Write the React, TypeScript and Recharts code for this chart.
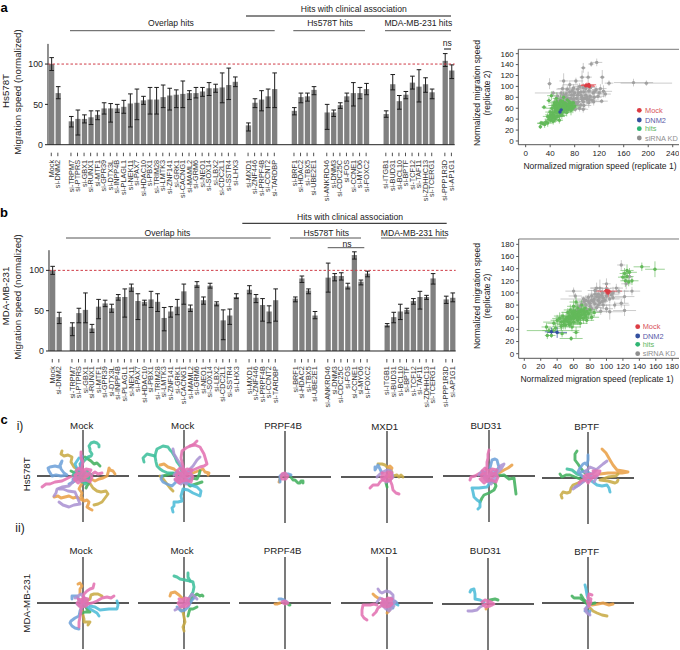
import React from 'react';
import { BarChart, Bar, XAxis, YAxis, ErrorBar, ReferenceLine, ScatterChart, Scatter, LineChart, Line } from 'recharts';

const FONT = '"Liberation Sans", Arial, sans-serif';

// ---------- bar panels ----------
const genes = ['Mock','si-DNM2','~1','si-TRPM7','si-PTPRS','si-GBX1','si-RUNX1','si-MTF1','si-GPR39','si-DTX3L','si-INPP4B','si-PLAGL1','si-NEK11','si-PAX7','si-HDAC10','si-PBX1','si-TRIM28','si-LMTK3','si-ZNF141','si-GRK1','si-CACNG1','si-MAML2','si-GRM6','si-NEO1','si-SOX14','si-LBX2','si-CDC2L1','si-SSTR4','si-LHX3','~2','si-MXD1','si-ZNF446','si-PRPF4B','si-CCNT2','si-TARDBP','~3','~4','si-BRF1','si-HDAC2','si-TBX5','si-UBE2E1','~5','si-ANKRD46','si-DNM3','si-CDC25C','si-FOS','si-CCNE1','si-MYO6','si-FOXC2','~6','~7','si-ITGB1','si-BUD31','si-BCL10','si-BPTF','si-TCF12','si-TAF11','si-ZDHHC13','si-TCERG1','~8','si-PPP1R3D','si-AP1G1'];
const N = null;
const hsMean = [100,64,N,29,32,32,34,37,45,45,45,47,51,52,55,56,56,59,61,62,63,64,64,66,70,70,71,74,78,N,24,52,56,60,69,N,N,42,59,60,68,N,40,40,49,60,64,64,69,N,N,38,75,54,62,77,72,75,65,N,104,92];
const hsLow = [92,57,N,22,12,27,25,31,38,28,40,39,22,31,50,38,38,46,43,46,46,56,58,60,61,65,52,56,72,N,17,46,42,46,46,N,N,37,52,54,62,N,19,35,45,54,48,57,62,N,N,34,68,44,57,69,53,65,57,N,97,82];
const hsHigh = [108,72,N,35,43,37,42,42,52,51,50,55,63,69,60,71,71,74,70,68,79,67,71,71,77,75,89,95,84,N,27,57,67,69,89,N,N,46,64,64,72,N,50,43,52,64,77,71,76,N,N,42,87,61,66,85,93,83,69,N,113,99];
const mdaMean = [100,42,N,30,47,51,28,55,59,53,67,67,79,62,61,64,61,41,49,55,74,53,82,63,81,59,38,44,67,N,76,66,57,49,63,N,N,65,90,75,44,N,91,93,93,80,119,86,96,N,N,32,42,49,51,62,67,67,90,N,64,66];
const mdaLow = [95,34,N,19,35,35,23,40,55,48,63,42,74,39,57,54,49,25,42,45,58,49,79,58,78,56,14,33,65,N,71,60,37,35,37,N,N,61,85,71,40,N,73,87,88,77,114,82,92,N,N,30,35,39,47,58,52,64,83,N,59,61];
const mdaHigh = [105,48,N,35,53,72,33,64,63,58,70,77,83,71,63,74,71,54,55,64,83,57,86,67,84,61,51,52,71,N,81,70,65,56,77,N,N,67,93,77,49,N,109,96,97,84,123,88,99,N,N,34,48,58,53,65,74,69,96,N,68,72];

const makeRows = (mean: (number|null)[], low: (number|null)[], high: (number|null)[]) =>
  genes.map((name, i) => ({
    name,
    value: mean[i],
    err: mean[i] === null ? undefined : [(mean[i] as number) - (low[i] as number), (high[i] as number) - (mean[i] as number)],
  }));

const GeneTick = (props: any) => {
  const { x, y, payload } = props;
  if (String(payload.value).startsWith('~')) return <g />;
  return (
    <g>
      <line x1={x} x2={x} y1={y} y2={y + 3.5} stroke="#222" strokeWidth={0.8} />
      <text x={x + 2.6} y={y + 7.2} transform={`rotate(-90 ${x + 2.6} ${y + 7.2})`} textAnchor="end" fontSize={7.3} fill="#333" fontFamily={FONT}>{payload.value}</text>
    </g>
  );
};

const GeneBars = ({ rows, left, top, plotLeft, plotTop, plotBottom, plotRight }: any) => {
  const w = plotRight - left;
  const h = 215;
  return (
    <div style={{ position: 'absolute', left, top }}>
      <BarChart width={w} height={h} data={rows} barSize={5.3} margin={{ top: plotTop - top, right: 0, bottom: 0, left: 0 }}>
        <XAxis dataKey="name" type="category" interval={0} tick={<GeneTick />} tickLine={false} height={h - (plotBottom - top)} stroke="#222" />
        <YAxis type="number" domain={[0, 125]} ticks={[0, 50, 100]} width={plotLeft - left} tickSize={3} tickMargin={2} interval={0}
          tick={{ fontSize: 8.8, fill: '#222', fontFamily: FONT }} stroke="#222" />
        <Bar dataKey="value" fill="#808080" isAnimationActive={false}>
          <ErrorBar dataKey="err" width={2.3} strokeWidth={1} stroke="#1c1c1c" isAnimationActive={false} />
        </Bar>
        <ReferenceLine y={100} stroke="#cf3a45" strokeWidth={1} strokeDasharray="2.5 2" />
      </BarChart>
    </div>
  );
};

// ---------- scatter panels: [replicate 1, replicate 2, error 1, error 2] ----------
type P = [number, number, number, number];
const hsGray: P[] = [[176,107,32,7],[197,106,42,5],[116,144,9,7],[107,141,5,5],[94,134,4,9],[39,105,4,10],[62,110,7,14],[82,110,12,6],[92,117,4,12],[102,117,6,10],[125,117,4,13],[136,106,7,5],[127,91,14,11],[122,96,10,8],[115,94,7,7],[124,73,10,4],[108,75,8,6],[100,80,24,12],[90,90,18,8],[72,103,12,6],[78,97,13,7],[85,95,14,10],[95,90,11,12],[103,92,12,9],[110,88,15,7],[98,84,10,10],[92,80,16,9],[85,84,14,7],[80,88,15,11],[72,90,11,10],[66,86,12,9],[62,84,10,12],[70,78,11,8],[78,76,15,9],[86,72,12,11],[94,72,11,7],[103,70,10,9],[111,72,12,7],[88,60,11,6],[94,58,8,6],[81,58,9,5],[65,73,13,7],[58,78,11,11],[52,82,12,7],[60,70,10,9],[72,68,11,10],[80,66,13,7],[95,65,12,7],[105,82,9,11],[118,82,11,7],[130,86,9,6],[45,88,30,4],[68,95,18,7],[58,88,13,5],[75,84,10,6],[83,78,10,9],[90,84,11,6],[100,76,12,10],[112,80,7,9],[120,88,8,7],[70,72,10,8],[76,92,11,6],[84,68,9,8],[92,76,10,7],[98,96,9,6],[106,98,8,7],[88,100,9,6],[74,78,8,7],[66,80,10,8],[80,72,8,9],[96,78,10,6],[104,76,7,6],[60,96,8,6],[54,74,9,7],[68,66,8,8],[86,88,12,6],[94,98,8,8],[112,90,10,5],[78,84,9,6],[90,66,9,7]];
const hsGreen: P[] = [[24,26,3,4],[25,33,6,4],[28,32,9,4],[31,30,5,6],[33,35,8,5],[36,33,9,7],[39,44,6,7],[41,38,8,6],[44,42,6,9],[45,36,6,6],[46,48,8,7],[48,40,9,7],[30,62,4,4],[40,53,8,9],[43,60,11,10],[38,74,4,6],[42,83,7,8],[47,70,8,7],[50,78,6,11],[48,55,11,7],[52,45,12,9],[52,60,8,10],[54,52,9,7],[55,68,11,9],[55,38,6,6],[57,74,9,11],[58,58,11,7],[59,47,8,7],[60,64,9,9],[62,80,8,9],[62,54,11,9],[64,70,12,7],[64,60,8,7],[66,62,14,11],[67,52,8,7],[68,75,9,9],[69,65,11,10],[70,58,9,7],[72,69,11,9],[72,62,12,6],[74,56,8,9],[75,65,9,7],[77,60,9,9],[78,70,8,9],[80,64,11,6],[46,65,9,6],[50,66,8,7],[51,72,9,6],[56,62,8,10],[60,72,9,7],[65,66,8,7],[70,64,8,6],[48,62,6,9],[53,64,11,7],[57,56,9,6],[61,68,8,9],[63,58,9,7],[67,68,9,9],[71,72,6,7],[44,52,8,7],[36,45,8,6],[41,48,9,7],[47,44,8,9],[50,52,11,7],[55,46,9,7],[52,56,9,8],[58,66,9,7],[62,62,10,8],[66,58,10,7],[54,60,8,6],[60,56,10,8],[74,62,8,7],[49,58,7,7],[44,46,7,7],[58,50,8,6],[64,64,9,8],[68,60,8,8],[56,70,9,7],[50,44,7,6],[42,44,8,5],[76,68,7,7],[38,40,7,6]];
const hsBlue: P[] = [[58,57,4,8],[56,53,3,7]];
const hsRed: P[] = [[100,102,12,5],[103,103,12,4],[98,101,9,5],[104,100,9,6]];
const mdaGray: P[] = [[118,146,5,8],[124,115,6,9],[122,71,14,9],[104,69,16,13],[131,103,10,7],[122,94,12,11],[60,103,10,6],[100,115,5,9],[88,108,8,9],[112,108,8,7],[128,127,3,10],[115,103,12,7],[108,100,9,10],[100,107,6,5],[95,100,10,9],[90,98,9,7],[92,108,11,14],[86,104,9,6],[82,95,8,10],[75,88,11,7],[78,93,9,6],[85,90,9,7],[90,88,8,6],[96,92,8,7],[100,95,9,9],[104,90,12,7],[110,80,18,6],[70,82,9,6],[75,80,11,9],[80,83,9,7],[86,82,11,10],[92,84,8,9],[96,80,8,7],[88,76,9,6],[82,74,8,7],[76,73,9,6],[72,90,28,4],[68,78,8,7],[93,70,11,6],[100,74,8,7],[108,92,14,4],[118,83,9,7],[62,95,8,5],[65,72,11,6],[98,88,6,6],[84,86,6,6],[80,78,6,5],[91,93,6,6],[73,86,6,6],[106,97,8,6],[95,86,7,6],[88,94,7,6],[82,88,7,5],[94,96,6,5],[102,100,6,6],[86,98,7,6],[78,86,6,6],[90,80,6,5]];
const mdaGreen: P[] = [[28,30,3,6],[30,38,8,4],[27,44,6,7],[33,30,5,4],[38,42,9,7],[36,50,8,6],[45,45,11,7],[40,55,8,9],[46,33,6,6],[57,25,14,4],[63,35,4,9],[43,58,9,10],[48,53,9,9],[47,62,11,7],[50,47,8,7],[52,60,11,11],[53,68,8,7],[54,52,9,7],[55,62,12,9],[56,72,8,9],[57,57,11,10],[58,44,11,7],[59,65,9,9],[60,78,8,11],[60,52,9,9],[62,60,12,10],[62,70,9,9],[63,85,8,9],[64,65,11,9],[65,55,11,7],[65,75,9,10],[66,60,12,9],[67,68,11,10],[68,50,9,7],[69,72,9,9],[70,64,11,7],[70,80,8,9],[72,58,11,9],[73,68,9,10],[74,75,8,9],[75,62,11,7],[76,55,9,6],[78,66,9,9],[80,72,8,7],[82,60,9,6],[85,68,9,6],[58,60,20,10],[50,56,9,7],[55,48,12,6],[66,70,9,7],[61,62,8,7],[68,62,8,7],[72,72,8,7],[45,52,22,13],[35,38,32,4],[125,137,8,10],[122,132,6,9],[128,134,9,7],[125,127,8,9],[123,120,6,10],[131,120,8,7],[127,118,5,7],[143,143,10,7],[159,139,12,13],[120,126,6,6],[58,68,9,8],[64,58,10,7],[70,70,8,8],[54,58,9,8],[60,58,9,7],[66,64,8,8],[74,64,9,7],[52,54,8,7],[48,48,8,8],[62,66,9,7],[56,50,9,6],[68,58,9,7],[60,70,8,7],[76,70,8,7]];
const mdaBlue: P[] = [[33,36,8,7],[40,35,12,9]];
const mdaRed: P[] = [[101,102,9,7],[100,104,3,8],[102,100,4,7],[103,103,16,3]];

const hsXTicks = [0,40,80,120,160,200,240];
const hsYTicks = [0,20,40,60,80,100,120,140,160];
const mdaXTicks = [0,20,40,60,80,100,120,140,160,180];
const mdaYTicks = [0,20,40,60,80,100,120,140,160,180];

const toPts = (a: P[]) => a.map(([x, y, ex, ey]) => ({ x, y, ex, ey }));
const Cloud = ({ pts, color, name, errOpacity }: any) => (
  <Scatter name={name} data={toPts(pts)} isAnimationActive={false}
    shape={(p: any) => <circle cx={p.cx} cy={p.cy} r={1.7} fill={color} />}>
    <ErrorBar dataKey="ex" direction="x" width={0} stroke={color} strokeWidth={0.9} strokeOpacity={errOpacity} isAnimationActive={false} />
    <ErrorBar dataKey="ey" direction="y" width={0} stroke={color} strokeWidth={0.9} strokeOpacity={errOpacity} isAnimationActive={false} />
  </Scatter>
);

const ReplicatePlot = ({ left, top, plotLeft, plotTop, plotBottom, plotRight, xDomain, yDomain, xTicks, yTicks, gray, green, blue, red }: any) => {
  const h = plotBottom - top + 22;
  const axisStyle = { fontSize: 8, fill: '#222', fontFamily: FONT };
  return (
    <div style={{ position: 'absolute', left, top }}>
      <ScatterChart width={plotRight - left} height={h} margin={{ top: plotTop - top, right: 0, bottom: 0, left: 0 }}>
        <XAxis type="number" dataKey="x" domain={xDomain} ticks={xTicks} interval={0} allowDataOverflow height={22} tickSize={2.5} tickMargin={3} stroke="#555" tick={axisStyle} />
        <YAxis type="number" dataKey="y" domain={yDomain} ticks={yTicks} interval={0} allowDataOverflow width={plotLeft - left} tickSize={2.5} tickMargin={2} stroke="#555" tick={axisStyle} />
        <ReferenceLine y={yDomain[1]} stroke="#777" strokeWidth={1} />
        {Cloud({ pts: gray, color: '#a0a0a0', name: 'siRNA KD', errOpacity: 0.6 })}
        {Cloud({ pts: green, color: '#63b95a', name: 'hits', errOpacity: 0.7 })}
        {Cloud({ pts: blue, color: '#33509f', name: 'DNM2', errOpacity: 0.8 })}
        {Cloud({ pts: red, color: '#dc3c44', name: 'Mock', errOpacity: 0.8 })}
      </ScatterChart>
    </div>
  );
};

// ---------- trajectories: displacement, x right, y up ----------
type T = [string, [number, number][]];
const BLOB_L: [number, number][] = [[0,0],[-5,3],[-8,1],[-6,-3],[-2,-5],[3,-4],[7,-6],[9,-1],[6,3],[8,6],[3,7],[-1,5],[-4,8],[-7,5],[-3,1],[2,3],[5,0],[1,-2],[-4,-1],[-9,-3],[-5,-7],[0,-3],[4,2],[0,6],[-3,3],[3,-1]];
const BLOB_M: [number, number][] = [[0,0],[-4,2],[-6,0],[-4,-3],[-1,-4],[3,-3],[5,-1],[4,2],[5,4],[1,5],[-2,3],[-5,4],[-2,0],[2,2],[3,-1],[0,-2],[-3,-1]];
const BLOB_S: [number, number][] = [[0,0],[-3,1],[-4,-1],[-2,-3],[1,-2],[3,-1],[2,2],[0,3],[-2,2],[0,0],[2,-1]];
const SWIRL: [number, number][] = [[-10,1],[-7,5],[-3,3],[-5,-2],[-1,-6],[4,-3],[8,1],[4,5],[1,2],[-3,-3],[2,-8],[7,-3]];
const tracksHs1: T[] = [
  ['orange',[[-29,-21],[-25,-20],[-22,-22],[-18,-21],[-14,-20],[-10,-22],[-6,-21],[-3,-23],[1,-25],[4,-24],[6,-26],[5,-29],[4,-31],[7,-33],[9,-34]]],
  ['orange',[[32,2],[30,5],[27,6],[26,8],[25,3],[24,0],[20,-2],[16,-3],[12,-5],[8,-3],[5,-1],[2,0]]],
  ['orange',[[0,-23],[-2,-20],[-1,-17],[-4,-13],[-2,-9],[0,-6]]],
  ['olive',[[-21,25],[-22,22],[-19,20],[-15,21],[-11,19],[-12,14],[-9,9],[-6,7],[-4,4],[-1,2]]],
  ['olive',[[11,-29],[15,-28],[19,-26],[22,-22],[25,-18],[23,-15],[18,-16],[14,-15],[10,-12],[8,-9],[6,-6],[3,-4],[1,-2]]],
  ['green',[[2,19],[5,17],[8,15],[11,12],[14,13],[17,10]]],
  ['green',[[-12,5],[-8,3],[-3,-3],[1,-5],[6,-7],[4,-10],[3,-12]]],
  ['teal',[[0,2],[-2,6],[-3,12],[1,15],[5,19],[8,20],[9,22],[7,25],[7,27],[6,30],[8,33],[11,34],[14,33],[16,31],[16,29]]],
  ['cyan',[[-10,-6],[-5,-3],[-2,-1],[-5,5],[-8,12],[-6,15],[-4,18]]],
  ['blue',[[-34,5],[-35,8],[-33,9],[-28,10],[-24,9],[-22,12],[-21,15],[-23,11],[-22,7],[-19,3],[-16,1],[-22,0],[-27,1],[-31,0],[-34,5]]],
  ['blue',[[-14,-8],[-10,-6],[-10,-3],[-6,1],[-3,5],[-2,12],[-1,20]]],
  ['purple',[[-29,-20],[-27,-17],[-26,-13],[-21,-11],[-14,-10],[-10,-6],[-4,-1]]],
  ['purple',[[-24,-26],[-20,-29],[-14,-31],[-9,-29],[-3,-28],[-5,-23],[-8,-16],[-15,-15],[-20,-13],[-24,-13]]],
  ['pink',[[-41,-11],[-37,-8],[-33,-8],[-28,-6],[-21,-5],[-13,-1],[-8,1],[-1,2]]],
  ['pink',[[19,3],[15,2],[12,4],[8,1],[4,1]]],
  ['pink',[[-2,24],[-2,18],[0,14],[-1,9],[1,3]]],
  ['teal',SWIRL],
  ['pink',BLOB_L],
];
const tracksHs2: T[] = [
  ['orange',[[-24,11],[-20,12],[-16,9],[-10,7],[-4,2]]],
  ['orange',[[24,1],[25,3],[21,4],[19,7],[14,5],[9,3]]],
  ['olive',[[-11,-15],[-14,-12],[-17,-8],[-20,-4],[-24,0]]],
  ['green',[[-21,0],[-14,2],[-7,3],[-1,-1]]],
  ['green',[[16,5],[15,1],[13,-3],[8,-2],[4,-5]]],
  ['green',[[18,-6],[12,-8],[6,-10],[3,-7],[1,-3]]],
  ['teal',[[-40,14],[-41,18],[-37,22],[-33,21],[-29,20],[-28,24],[-27,27],[-21,30],[-16,29],[-14,26],[-12,24],[-9,19],[-7,14],[-4,10],[-2,4]]],
  ['teal',[[-29,20],[-28,14],[-27,10],[-24,7],[-21,5],[-16,3],[-11,3]]],
  ['blue',[[-22,0],[-23,-3],[-21,-6],[-17,-8],[-12,-10],[-8,-6],[-4,-3]]],
  ['cyan',[[-11,-36],[-12,-32],[-10,-30],[-10,-26],[-6,-26],[-2,-25],[-3,-20],[-1,-13],[4,-14],[9,-17],[16,-20],[17,-15],[13,-11],[7,-9],[1,-6]]],
  ['purple',[[-11,27],[-10,22],[-7,17],[-5,14],[-2,9],[1,5]]],
  ['purple',[[16,19],[13,16],[9,10],[6,7],[3,2]]],
  ['purple',[[-9,-4],[-3,-8],[3,-3],[-4,3],[-8,1],[-5,-5]]],
  ['pink',[[13,35],[10,32],[6,30],[2,28],[-2,25],[-3,18],[-1,10],[0,4]]],
  ['pink',[[6,30],[11,31],[16,29],[20,22],[23,12],[20,10],[16,9],[9,6],[3,2]]],
  ['purple',SWIRL],
  ['pink',BLOB_L],
];
const tracksHs3: T[] = [
  ['orange',[[-6,-5],[-5,-2],[-4,0]]],
  ['green',[[18,-6],[18,-4],[16,-4],[15,-6],[13,-6],[10,-3],[8,-3],[5,1]]],
  ['blue',[[6,2],[3,3],[-2,3],[-5,1],[-5,-5]]],
  ['pink',[[-3,3],[0,4],[3,1],[1,-2],[-3,-2],[-4,1],[-1,2],[1,0]]],
];
const tracksHs4: T[] = [
  ['olive',[[-9,13],[-5,13],[-2,12],[1,9],[5,5]]],
  ['olive',[[16,0],[14,2],[12,0],[10,2],[3,0]]],
  ['orange',[[1,10],[3,11],[5,9],[3,5],[1,0]]],
  ['blue',[[-12,10],[-12,7],[-9,12],[-7,8],[-5,4]]],
  ['green',[[0,-10],[-1,-6],[1,-3]]],
  ['purple',[[-10,0],[-7,3],[-4,5],[0,7],[4,6],[6,0],[2,-4],[-1,-5]]],
  ['pink',[[-17,-11],[-14,-8],[-9,-8],[-7,-5],[-5,-3],[-2,-1],[0,2]]],
  ['pink',[[12,-17],[9,-16],[6,-13],[5,-8],[3,-3]]],
  ['pink',BLOB_M],
];
const tracksHs5: T[] = [
  ['orange',[[23,11],[19,8],[15,6],[10,3],[6,2]]],
  ['green',[[27,-18],[26,-10],[25,-2],[20,-3],[15,1],[8,0]]],
  ['green',[[-9,-26],[-7,-22],[-5,-19],[0,-17],[5,-14],[7,-10],[6,-7],[2,-5],[-2,-2]]],
  ['cyan',[[-11,-33],[-9,-31],[-9,-26],[-12,-24],[-15,-21],[-16,-16],[-17,-12],[-10,-12],[-2,-11],[0,-8],[1,-6]]],
  ['blue',[[1,8],[2,12],[3,16],[6,17],[8,16],[9,12],[10,9],[8,6],[6,3]]],
  ['purple',[[10,9],[13,11],[15,12],[12,7],[8,3],[4,2],[0,0]]],
  ['pink',[[0,26],[-1,22],[-1,18],[-2,14],[-2,9],[-4,3]]],
  ['pink',[[-19,-4],[-18,-1],[-14,0],[-9,3],[-5,1],[-2,-1]]],
  ['purple',SWIRL],
  ['pink',BLOB_L],
];
const tracksHs6: T[] = [
  ['orange',[[14,29],[18,25],[22,18],[25,13],[29,8],[35,7],[40,6],[34,5],[29,5],[20,5],[12,4]]],
  ['olive',[[30,-2],[29,-4],[27,-5],[20,-3],[12,-2],[20,1],[28,2],[30,4]]],
  ['olive',[[-26,-20],[-27,-17],[-25,-14],[-21,-15],[-18,-14],[-17,-10],[-15,-7],[-10,-5],[-5,-2]]],
  ['green',[[-11,27],[-13,24],[-13,18],[-10,14],[-8,11],[-5,7],[-1,3]]],
  ['green',[[-28,4],[-26,1],[-22,3],[-18,3],[-13,1],[-8,-1]]],
  ['teal',[[-21,9],[-16,8],[-11,4],[-8,3],[-5,1]]],
  ['cyan',[[22,-14],[21,-10],[19,-7],[14,-8],[9,-7],[5,-4],[2,-2]]],
  ['blue',[[0,23],[0,18],[-1,13],[-3,15],[-5,14],[-8,10],[-10,6],[-6,2],[0,-2]]],
  ['blue',[[-13,-9],[-9,-7],[-3,-2],[3,4],[-2,7],[-7,6]]],
  ['purple',[[19,17],[15,14],[9,9],[4,4],[-1,-1],[-8,-6],[-15,-11]]],
  ['purple',[[7,9],[2,11],[-3,6],[3,1],[9,2],[6,-4]]],
  ['pink',[[-9,-5],[-6,-2],[-3,-2],[-4,2],[2,4],[8,5],[7,1],[3,0],[-4,1],[0,-5],[6,2],[10,3],[12,7],[5,7]]],
];
const tracksMda1: T[] = [
  ['orange',[[-5,19],[-3,20],[-1,17],[-3,14],[-3,9]]],
  ['olive',[[19,7],[15,9],[11,9],[8,8],[7,4],[0,0]]],
  ['olive',[[5,-22],[7,-19],[1,-19],[1,-16],[-1,-8]]],
  ['green',[[-3,-11],[2,-9],[7,-9],[4,-6],[2,-3]]],
  ['cyan',[[34,2],[35,-2],[34,-6],[26,-6],[17,-7],[12,-4],[7,-3]]],
  ['cyan',[[16,-13],[14,-10],[7,-6],[1,-1]]],
  ['blue',[[-4,-26],[-8,-25],[-11,-23],[-13,-20],[-12,-18],[-8,-15],[-4,-13],[-3,-8],[-1,-4]]],
  ['blue',[[-11,4],[-11,7],[-6,7],[-4,3],[-2,1]]],
  ['purple',[[-8,5],[-2,9],[3,3],[-3,-3],[-6,-1]]],
  ['pink',[[11,19],[10,15],[7,14],[4,12],[1,9],[0,5],[-1,1]]],
  ['pink',[[31,7],[28,5],[24,6],[19,5],[14,2],[9,0],[4,-1]]],
  ['pink',[[-4,-24],[-4,-19],[-3,-14],[-2,-9],[-2,-5]]],
  ['pink',BLOB_M],
];
const tracksMda2: T[] = [
  ['orange',[[-14,7],[-13,10],[-9,11],[-5,8],[-1,4]]],
  ['olive',[[0,-28],[-1,-24],[1,-19],[0,-14],[-1,-9],[-5,-5]]],
  ['green',[[19,7],[18,8],[16,7],[13,9],[9,6],[6,2]]],
  ['green',[[13,-4],[9,-6],[6,-6],[5,-9],[4,-13]]],
  ['teal',[[4,30],[4,26],[6,22],[1,23],[-4,24],[-7,26],[-10,27]]],
  ['teal',[[6,22],[9,21],[10,16],[9,11],[6,6],[3,2]]],
  ['blue',[[-7,-4],[-3,-8],[1,-7],[4,-4],[8,3],[10,5]]],
  ['purple',[[13,4],[8,9],[5,5],[3,0],[-3,-4],[-9,-7]]],
  ['pink',BLOB_M],
];
const tracksMda3: T[] = [
  ['orange',[[-10,-1],[-8,-1],[-5,0]]],
  ['green',[[5,-2],[4,-2],[3,-1]]],
  ['blue',[[-6,4],[-4,4],[-1,3],[2,1]]],
  ['pink',[[-3,1],[0,2],[3,0],[0,-1],[-2,0]]],
];
const tracksMda4: T[] = [
  ['orange',[[-14,9],[-12,7],[-9,5]]],
  ['orange',[[0,-10],[2,-8],[3,-5]]],
  ['cyan',[[11,-2],[7,0],[3,0],[6,-5]]],
  ['blue',[[-4,3],[3,-4],[8,2],[10,0]]],
  ['purple',[[-9,14],[-7,11],[-5,10],[-1,12],[3,11],[6,8],[6,4]]],
  ['pink',[[-20,-17],[-23,-15],[-25,-12],[-25,-7],[-24,-2],[-20,-2],[-17,-2],[-13,-1],[-10,-2]]],
  ['pink',[[-14,-12],[-11,-9],[-9,-5],[-6,-3],[-3,-1]]],
  ['purple',SWIRL],
  ['pink',BLOB_M],
];
const tracksMda5: T[] = [
  ['orange',[[-2,-5],[0,-2]]],
  ['green',[[10,4],[7,5],[2,4]]],
  ['cyan',[[-18,12],[-17,14],[-14,15],[-13,10],[-13,5],[-8,4],[-4,2]]],
  ['purple',[[-20,-7],[-16,-7],[-11,-6],[-8,-3],[-4,-1]]],
  ['pink',[[-6,2],[-3,4],[3,2],[6,0],[2,-2],[-2,-3],[-5,-1],[0,1],[4,-1]]],
];
const tracksMda6: T[] = [
  ['orange',[[25,-1],[21,-2],[15,0],[10,-1],[4,-2]]],
  ['olive',[[19,-13],[14,-12],[9,-10],[5,-8],[2,-5]]],
  ['green',[[-16,7],[-14,5],[-8,5],[-4,2],[0,-2]]],
  ['green',[[-7,8],[-4,3],[2,-1],[7,0]]],
  ['cyan',[[-3,18],[-2,14],[-1,8],[1,2]]],
  ['blue',[[-3,-8],[0,-2],[-2,-6],[1,-11],[2,-8]]],
  ['purple',[[2,-12],[-1,-10],[-3,-6],[1,-3]]],
  ['pink',[[4,8],[1,9],[0,5],[3,4],[2,0],[-1,2],[1,-3],[3,1]]],
];

const TRACK_COLORS: Record<string, string> = {
  orange: '#e9a048', olive: '#c8ab45', green: '#43b05e', teal: '#3fbf9c',
  cyan: '#4dbcd8', blue: '#6ea2da', purple: '#ab93d3', pink: '#e272b2',
};

const panelRows = [
  { tracks: tracksHs1, title: 'Mock', cx: 82.7, cy: 475.5, tx: 81.7, ty: 425 },
  { tracks: tracksHs2, title: 'Mock', cx: 184, cy: 475.5, tx: 182.7, ty: 425 },
  { tracks: tracksHs3, title: 'PRPF4B', cx: 285.3, cy: 476.5, tx: 283, ty: 425.5 },
  { tracks: tracksHs4, title: 'MXD1', cx: 387, cy: 477, tx: 384.7, ty: 426 },
  { tracks: tracksHs5, title: 'BUD31', cx: 488.7, cy: 476, tx: 486, ty: 425.5 },
  { tracks: tracksHs6, title: 'BPTF', cx: 588, cy: 477.7, tx: 586.7, ty: 426.7 },
  { tracks: tracksMda1, title: 'Mock', cx: 82.7, cy: 602.5, tx: 81, ty: 550.5 },
  { tracks: tracksMda2, title: 'Mock', cx: 184, cy: 602.5, tx: 182, ty: 550.5 },
  { tracks: tracksMda3, title: 'PRPF4B', cx: 285.3, cy: 602.5, tx: 282.7, ty: 550.5 },
  { tracks: tracksMda4, title: 'MXD1', cx: 387, cy: 603, tx: 384, ty: 550.5 },
  { tracks: tracksMda5, title: 'BUD31', cx: 487.7, cy: 603.7, tx: 485.3, ty: 550.5 },
  { tracks: tracksMda6, title: 'BPTF', cx: 588, cy: 603.3, tx: 586.7, ty: 551 },
];

const TrackPanel = ({ tracks, cx, cy }: any) => (
  <div style={{ position: 'absolute', left: cx - 46, top: cy - 46 }}>
    <LineChart width={92} height={92} margin={{ top: 0, right: 0, bottom: 0, left: 0 }}>
      <XAxis type="number" dataKey="x" domain={[-46, 46]} hide allowDataOverflow />
      <YAxis type="number" dataKey="y" domain={[-46, 46]} hide allowDataOverflow width={0} />
      <ReferenceLine x={0} stroke="#333" strokeWidth={1.3} />
      <ReferenceLine y={0} stroke="#222" strokeWidth={1.3} />
      {tracks.map(([c, pts]: T, i: number) => (
        <Line key={i} data={pts.map(([x, y]) => ({ x, y }))} dataKey="y" type="linear" dot={false} stroke={TRACK_COLORS[c]}
          strokeWidth={2.9} strokeOpacity={0.88} strokeLinejoin="round" strokeLinecap="round" isAnimationActive={false} />
      ))}
    </LineChart>
  </div>
);

// ---------- annotations ----------
const Txt = ({ x, y, s, size = 8.6, anchor = 'middle', fill = '#222', weight, rot }: any) => (
  <text x={x} y={y} fontSize={size} textAnchor={anchor} dominantBaseline="central" fill={fill} fontWeight={weight} fontFamily={FONT}
    transform={rot ? `rotate(-90 ${x} ${y})` : undefined}>{s}</text>
);
const Rule = ({ x1, x2, y, c = '#555' }: any) => <line x1={x1} x2={x2} y1={y} y2={y} stroke={c} strokeWidth={1} />;

const legendItems = [
  { label: 'Mock', dot: '#dc3c44', text: '#d8525a' },
  { label: 'DNM2', dot: '#33509f', text: '#5a5aa8' },
  { label: 'hits', dot: '#2fb573', text: '#5fb762' },
  { label: 'siRNA KD', dot: '#8f8f8f', text: '#8f8f8f' },
];
const Legend = ({ x, ys, tx }: any) => (
  <g>
    {legendItems.map((it, i) => (
      <g key={it.label}>
        <circle cx={x} cy={ys[i]} r={2.4} fill={it.dot} />
        <Txt x={tx} y={ys[i]} s={it.label} size={7.4} anchor="start" fill={it.text} />
      </g>
    ))}
  </g>
);

const Overlay = () => (
  <svg width={680} height={650} style={{ position: 'absolute', left: 0, top: 0, pointerEvents: 'none' }}>
    <Txt x={4} y={7} s="a" size={13} weight="bold" fill="#000" />
    <Txt x={4} y={212} s="b" size={13} weight="bold" fill="#000" />
    <Txt x={4} y={419} s="c" size={13} weight="bold" fill="#000" />

    <Txt x={5.5} y={91} s="Hs578T" size={9.7} rot />
    <Txt x={17.5} y={92} s="Migration speed (normalized)" size={9.7} rot />
    <Txt x={171} y={23} s="Overlap hits" />
    <Rule x1={70} x2={274.7} y={30.7} />
    <Txt x={353.7} y={8.7} s="Hits with clinical association" />
    <Rule x1={246} x2={451} y={16} c="#111" />
    <Txt x={330} y={23} s="Hs578T hits" />
    <Rule x1={293.3} x2={365} y={30.7} />
    <Txt x={418.3} y={23} s="MDA-MB-231 hits" />
    <Rule x1={385} x2={451} y={30.7} />
    <Txt x={447.3} y={43} s="ns" />
    <Rule x1={444} x2={451} y={49} c="#111" />

    <Txt x={5.5} y={296} s="MDA-MB-231" size={9.7} rot />
    <Txt x={17.5} y={297} s="Migration speed (normalized)" size={9.7} rot />
    <Txt x={167.5} y={233} s="Overlap hits" />
    <Rule x1={66} x2={270.7} y={238} />
    <Txt x={350} y={217.3} s="Hits with clinical association" />
    <Rule x1={242.3} x2={446.7} y={223.3} c="#111" />
    <Txt x={326.3} y={233} s="Hs578T hits" />
    <Rule x1={290} x2={361} y={238} />
    <Txt x={414.7} y={233} s="MDA-MB-231 hits" />
    <Rule x1={381} x2={446.7} y={238} />
    <Txt x={347} y={243.5} s="ns" />
    <Rule x1={327.7} x2={364.3} y={247.7} />

    <Txt x={476.7} y={93} s="Normalized migration speed" size={8.5} rot />
    <Txt x={487.3} y={93} s="(replicate 2)" size={8.5} rot />
    <Txt x={600} y={166.3} s="Normalized migration speed (replicate 1)" size={8.5} />
    <Legend x={639.3} tx={645} ys={[110.3, 120, 128.7, 138]} />

    <Txt x={476.7} y={296} s="Normalized migration speed" size={8.5} rot />
    <Txt x={487.3} y={296} s="(replicate 2)" size={8.5} rot />
    <Txt x={597} y={379} s="Normalized migration speed (replicate 1)" size={8.5} />
    <Legend x={637.7} tx={642.7} ys={[326.7, 336, 344.3, 353.7]} />

    <Txt x={20} y={425.7} s="i)" size={12} />
    <Txt x={20} y={527.7} s="ii)" size={12} />
    <Txt x={26.7} y={474.3} s="Hs578T" size={9.7} rot />
    <Txt x={26.7} y={603.3} s="MDA-MB-231" size={9.7} rot />
    {panelRows.map((p, i) => <Txt key={i} x={p.tx} y={p.ty} s={p.title} size={9.7} />)}
  </svg>
);

const hsRows = makeRows(hsMean, hsLow, hsHigh);
const mdaRows = makeRows(mdaMean, mdaLow, mdaHigh);

export default function App() {
  return (
    <div style={{ position: 'absolute', left: 0, top: 0, width: 680, height: 650, overflow: 'hidden', background: '#fff' }}>
      <GeneBars rows={hsRows} left={0} top={0} plotLeft={48} plotTop={43.9} plotBottom={144.7} plotRight={454.7} />
      <GeneBars rows={mdaRows} left={0} top={200} plotLeft={49} plotTop={250.2} plotBottom={351} plotRight={455.7} />
      <ReplicatePlot left={470} top={30} plotLeft={518.3} plotTop={49.3} plotBottom={144.7} plotRight={679.3}
        xDomain={[-12, 250.7]} yDomain={[-6.8, 168]} xTicks={hsXTicks} yTicks={hsYTicks} gray={hsGray} green={hsGreen} blue={hsBlue} red={hsRed} />
      <ReplicatePlot left={470} top={220} plotLeft={518.7} plotTop={239} plotBottom={358.3} plotRight={679.3}
        xDomain={[-6.8, 188.6]} yDomain={[-7.6, 188.8]} xTicks={mdaXTicks} yTicks={mdaYTicks} gray={mdaGray} green={mdaGreen} blue={mdaBlue} red={mdaRed} />
      {panelRows.map((p, i) => <TrackPanel key={i} tracks={p.tracks} cx={p.cx} cy={p.cy} />)}
      <Overlay />
    </div>
  );
}
